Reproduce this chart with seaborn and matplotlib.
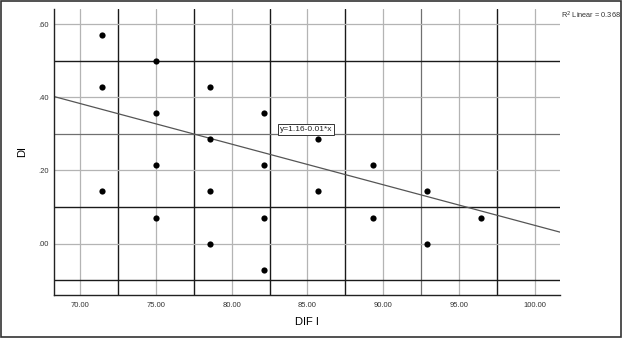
import matplotlib
matplotlib.use('Agg')
import matplotlib.pyplot as plt
from matplotlib.patches import Rectangle
import numpy as np
import pandas as pd
import seaborn as sns

# data
dif_i = [71.43, 71.43, 71.43,
         75.00, 75.00, 75.00, 75.00,
         78.57, 78.57, 78.57, 78.57,
         82.14, 82.14, 82.14, 82.14,
         85.71, 85.71,
         89.29, 89.29,
         92.86, 92.86,
         96.43]
di = [0.571, 0.429, 0.143,
      0.500, 0.357, 0.214, 0.071,
      0.429, 0.286, 0.143, 0.000,
      0.357, 0.214, 0.071, -0.071,
      0.286, 0.143,
      0.214, 0.071,
      0.143, 0.000,
      0.071]
fit_intercept = 1.16
fit_slope = -0.0111
fit_label = 'y=1.16-0.01*x'
r2_label = 'R$^2$ Linear = 0.368'
x_ticks = [70, 75, 80, 85, 90, 95, 100]
y_ticks = [0.0, 0.2, 0.4, 0.6]

df = pd.DataFrame({'DIF I': dif_i, 'DI': di})

sns.set_style('white')
plt.rcParams['font.family'] = ['Liberation Sans', 'DejaVu Sans']

fig = plt.figure(figsize=(6.22, 3.38), dpi=100)
ax = fig.add_axes([0.0868, 0.1272, 0.8135, 0.8462])
ax.set_xlim(68.29, 101.65)
ax.set_ylim(-0.14, 0.641)

# grid lines (light at labelled ticks, dark in between)
for xv in [70, 75, 80, 85, 90, 95, 100]:
    ax.axvline(xv, color='#b4b4b4', lw=0.9, zorder=1)
for xv in [72.5, 77.5, 82.5, 87.5, 97.5]:
    ax.axvline(xv, color='#1a1a1a', lw=1.0, zorder=1)
ax.axvline(92.5, color='#707070', lw=0.9, zorder=1)
for yv in [0.0, 0.2, 0.4, 0.6]:
    ax.axhline(yv, color='#b4b4b4', lw=0.9, zorder=1)
for yv in [0.5, 0.1, -0.1]:
    ax.axhline(yv, color='#1a1a1a', lw=1.0, zorder=1)
ax.axhline(0.3, color='#707070', lw=0.9, zorder=1)

sns.scatterplot(data=df, x='DIF I', y='DI', ax=ax, color='black',
                s=20, edgecolor='black', linewidth=0, zorder=3)
ax.axline((0, fit_intercept), slope=fit_slope, color='#555555', lw=0.9, zorder=2)

ax.text(84.9, 0.312, fit_label, fontsize=6, ha='center', va='center',
        color='#222222', zorder=4,
        bbox=dict(boxstyle='square,pad=0.25', fc='white', ec='#333333', lw=0.7))

ax.set_xticks(x_ticks)
ax.set_xticklabels(['%.2f' % v for v in x_ticks])
ax.set_yticks(y_ticks)
ax.set_yticklabels(['.%02d' % round(v * 100) for v in y_ticks])
ax.tick_params(axis='both', length=0, labelsize=5.5, labelcolor='#333333')
ax.tick_params(axis='x', pad=5)
ax.tick_params(axis='y', pad=4)

for side in ['top', 'right']:
    ax.spines[side].set_visible(False)
for side in ['left', 'bottom']:
    ax.spines[side].set_color('#222222')
    ax.spines[side].set_linewidth(1.0)

ax.set_xlabel('DIF I', fontsize=8, labelpad=6, color='black')
ax.set_ylabel('DI', fontsize=8, labelpad=8, color='black')

fig.text(561 / 622, 1 - 15 / 338, r2_label, fontsize=5.3, color='#333333', va='center')
fig.patches.append(Rectangle((0.001, 0.002), 0.997, 0.995, transform=fig.transFigure,
                             fill=False, ec='#333333', lw=1.2))

fig.savefig('out.png', dpi=100)
